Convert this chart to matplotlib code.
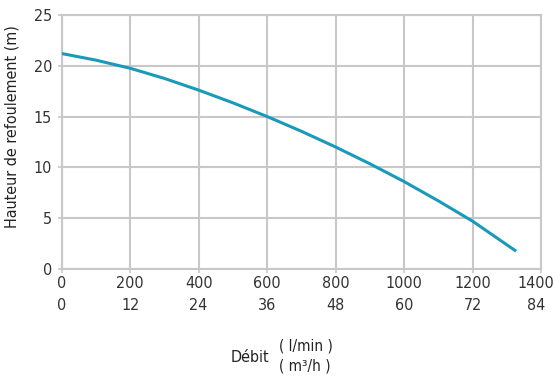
import matplotlib.pyplot as plt
from matplotlib.transforms import ScaledTranslation

# courbe de la pompe
debit = [0, 100, 200, 300, 400, 500, 600, 700, 800, 900, 1000, 1100, 1200, 1327]
hauteur = [21.2, 20.55, 19.75, 18.75, 17.6, 16.35, 15.0, 13.55, 12.0, 10.35, 8.6, 6.7, 4.7, 1.75]

ticks_lmin = [0, 200, 400, 600, 800, 1000, 1200, 1400]
ticks_m3h = [0, 12, 24, 36, 48, 60, 72, 84]
ticks_h = [0, 5, 10, 15, 20, 25]

plt.rcParams['font.family'] = ['DejaVu Sans']
plt.rcParams['font.stretch'] = 'condensed'

fig = plt.figure(figsize=(5.55, 3.77), dpi=100)
ax = fig.add_axes([0.111, 0.2865, 0.864, 0.674])

ax.plot(debit, hauteur, color="#1a9ab8", lw=2.2, solid_capstyle="butt", zorder=3)

ax.set_xlim(0, 1400)
ax.set_ylim(0, 25)
ax.set_xticks(ticks_lmin)
ax.set_xticklabels([f"{a}\n{b}" for a, b in zip(ticks_lmin, ticks_m3h)], linespacing=1.6)
ax.set_yticks(ticks_h)
ax.tick_params(axis="both", colors="#c8c8c8", labelcolor="#333333", labelsize=11.5,
               length=3, width=1.2)
ax.tick_params(axis="x", pad=2)
ax.tick_params(axis="y", pad=4)
ax.grid(True, color="#c8c8c8", lw=1.5)
for s in ax.spines.values():
    s.set_color("#c8c8c8")
    s.set_linewidth(1.5)
ax.set_axisbelow(True)

# le dernier libellé est décalé un peu vers la gauche
lab = ax.get_xticklabels()[-1]
lab.set_transform(lab.get_transform() + ScaledTranslation(-5 / 100, 0, fig.dpi_scale_trans))

fig.text(0.022, 0.665, "Hauteur de refoulement (m)", rotation=90, ha="center", va="center",
         fontsize=11.5, color="#222222")
fig.text(0.485, 0.053, "Débit", ha="right", va="center", fontsize=11.5, color="#222222")
fig.text(0.502, 0.082, "( l/min )", ha="left", va="center", fontsize=11, color="#222222")
fig.text(0.502, 0.029, "( m³/h )", ha="left", va="center", fontsize=11, color="#222222")

fig.savefig("out.png", dpi=100)
